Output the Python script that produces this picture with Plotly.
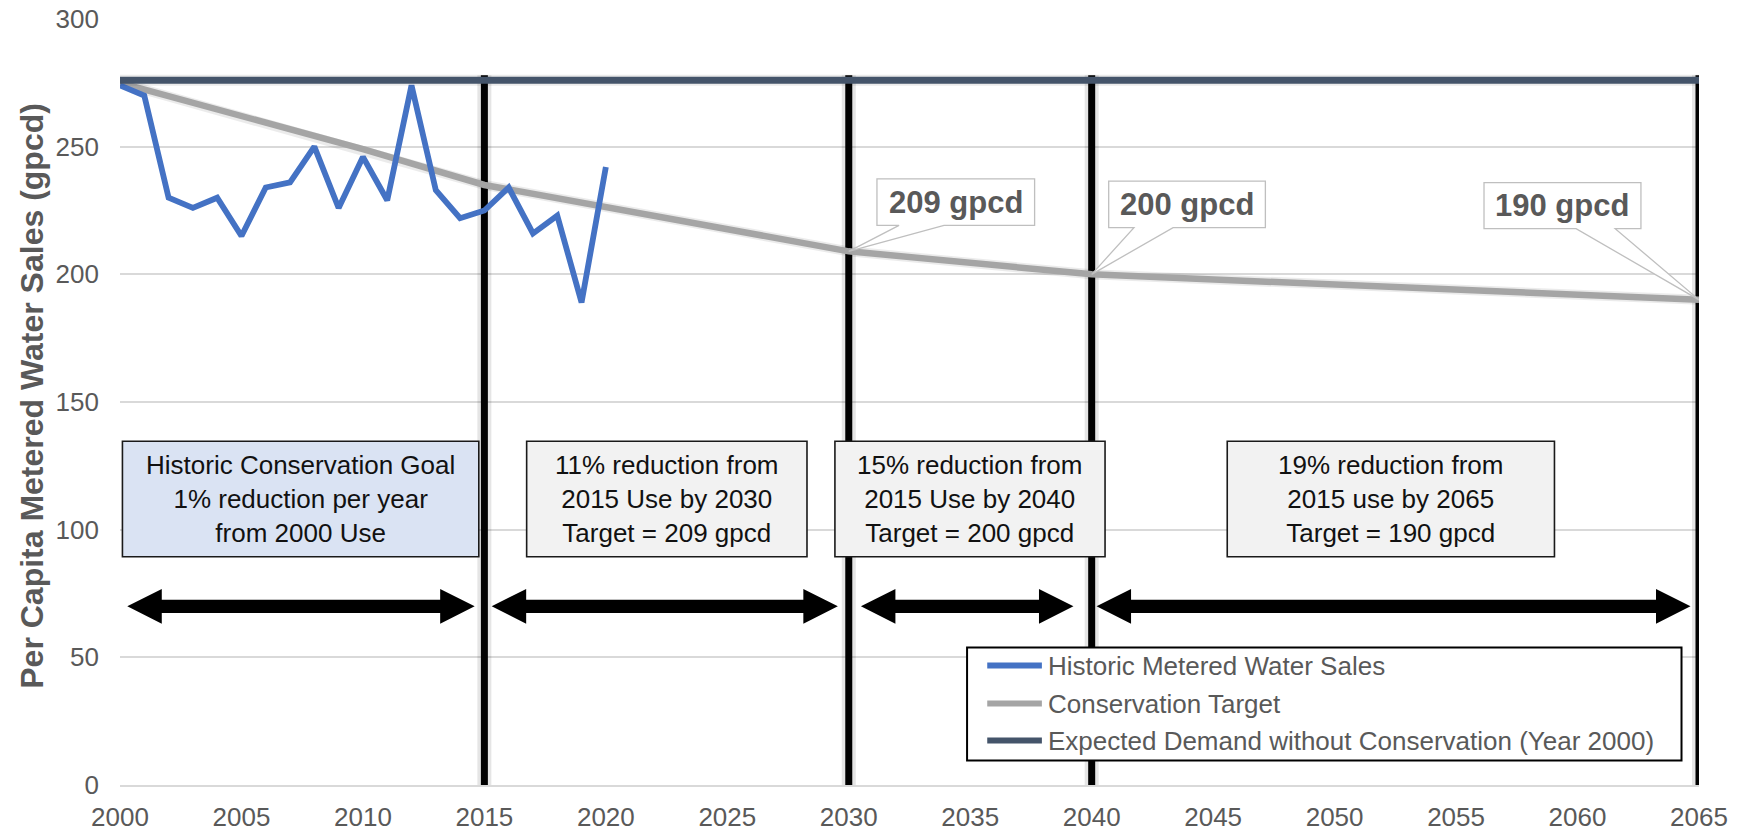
import plotly.graph_objects as go

# ---- data -----------------------------------------------------------------
hist_years = list(range(2000, 2021))
hist_gpcd = [274, 270, 230, 226, 230, 215, 234, 236, 250, 226, 246,
             229, 274, 233, 222, 225, 234, 216, 223, 189, 242]

target_years = [2000, 2005, 2010, 2015, 2030, 2040, 2065]
target_gpcd = [275, 262, 249, 235, 209, 200, 190]

demand_years = [2000, 2065]
demand_gpcd = [276, 276]

milestone_years = [2015, 2030, 2040, 2065]
callout_years = [2030, 2040, 2065]

series_names = [
    "Historic Metered Water Sales",
    "Conservation Target",
    "Expected Demand without Conservation (Year 2000)",
]
series_colors = ["#4472C4", "#A5A5A5", "#44546A"]

period_texts = [
    "Historic Conservation Goal<br>1% reduction per year<br>from 2000 Use",
    "11% reduction from<br>2015 Use by 2030<br>Target = 209 gpcd",
    "15% reduction from<br>2015 Use by 2040<br>Target = 200 gpcd",
    "19% reduction from<br>2015 use by 2065<br>Target = 190 gpcd",
]
period_fills = ["#DAE3F3", "#F2F2F2", "#F2F2F2", "#F2F2F2"]
period_box_x = [(2000.1, 2014.77), (2016.74, 2028.28), (2029.43, 2040.55), (2045.58, 2059.05)]
period_box_y = (89.4, 134.6)

arrow_spans = [(2000.3, 2014.6), (2015.3, 2029.55), (2030.5, 2039.25), (2040.2, 2064.65)]
arrow_y = 70

# callout box geometry: (x0, x1, y0, y1, wedge_left, wedge_right)
callout_boxes = [
    (2031.16, 2037.65, 219.2, 237.4, 2032.07, 2033.92),
    (2040.70, 2047.15, 218.3, 236.5, 2041.74, 2043.35),
    (2056.15, 2062.61, 217.9, 235.9, 2059.94, 2061.55),
]

FONT = "Liberation Sans, Arial, sans-serif"
TEXT_GRAY = "#595959"

fig = go.Figure()

# ---- series (soft halo underneath the thick lines) -------------------------
fig.add_trace(go.Scatter(x=target_years, y=target_gpcd, mode="lines",
                         hoverinfo="skip", showlegend=False,
                         line=dict(color="rgba(0,0,0,0.08)", width=10)))
fig.add_trace(go.Scatter(x=target_years, y=target_gpcd, mode="lines",
                         name=series_names[1],
                         line=dict(color=series_colors[1], width=6.5)))
fig.add_trace(go.Scatter(x=hist_years, y=hist_gpcd, mode="lines",
                         name=series_names[0],
                         line=dict(color=series_colors[0], width=5.8)))
fig.add_trace(go.Scatter(x=demand_years, y=demand_gpcd, mode="lines",
                         hoverinfo="skip", showlegend=False,
                         line=dict(color="rgba(0,0,0,0.08)", width=11)))
fig.add_trace(go.Scatter(x=demand_years, y=demand_gpcd, mode="lines",
                         name=series_names[2],
                         line=dict(color=series_colors[2], width=7)))

shapes = []
annotations = []

# ---- milestone verticals --------------------------------------------------
for yr in milestone_years:
    shapes.append(dict(type="line", xref="x", yref="y", x0=yr, x1=yr, y0=0, y1=278,
                       line=dict(color="rgba(0,0,0,0.10)", width=14), layer="between"))
    shapes.append(dict(type="line", xref="x", yref="y", x0=yr, x1=yr, y0=0, y1=278,
                       line=dict(color="#000000", width=7), layer="between"))

# ---- period text boxes ----------------------------------------------------
for (x0, x1), fill, txt in zip(period_box_x, period_fills, period_texts):
    shapes.append(dict(type="rect", xref="x", yref="y", x0=x0, x1=x1,
                       y0=period_box_y[0], y1=period_box_y[1],
                       fillcolor=fill, line=dict(color="#1a1a1a", width=1.6),
                       layer="above"))
    annotations.append(dict(x=(x0 + x1) / 2, y=sum(period_box_y) / 2, xref="x", yref="y",
                            text=txt, showarrow=False, align="center",
                            font=dict(family=FONT, size=26, color="#111111")))

# ---- double-headed arrows -------------------------------------------------
head_len, head_half, shaft_half = 1.42, 6.8, 2.6
for a, b in arrow_spans:
    y = arrow_y
    path = (f"M {a},{y} L {a+head_len},{y+head_half} L {a+head_len},{y+shaft_half} "
            f"L {b-head_len},{y+shaft_half} L {b-head_len},{y+head_half} L {b},{y} "
            f"L {b-head_len},{y-head_half} L {b-head_len},{y-shaft_half} "
            f"L {a+head_len},{y-shaft_half} L {a+head_len},{y-head_half} Z")
    shapes.append(dict(type="path", xref="x", yref="y", path=path,
                       fillcolor="#000000", line=dict(color="#000000", width=0),
                       layer="above"))

# ---- target callouts ------------------------------------------------------
target_lookup = dict(zip(target_years, target_gpcd))
for yr, (x0, x1, y0, y1, w0, w1) in zip(callout_years, callout_boxes):
    val = target_lookup[yr]
    path = (f"M {x0},{y1} L {x1},{y1} L {x1},{y0} L {w1},{y0} L {yr},{val} "
            f"L {w0},{y0} L {x0},{y0} Z")
    shapes.append(dict(type="path", xref="x", yref="y", path=path,
                       fillcolor="rgba(255,255,255,0.95)",
                       line=dict(color="#BFBFBF", width=1.3), layer="above"))
    annotations.append(dict(x=(x0 + x1) / 2, y=(y0 + y1) / 2, xref="x", yref="y",
                            text=f"<b>{val} gpcd</b>", showarrow=False,
                            font=dict(family=FONT, size=31, color=TEXT_GRAY)))

# ---- legend ---------------------------------------------------------------
shapes.append(dict(type="rect", xref="x", yref="y", x0=2034.87, x1=2064.28, y0=9.6, y1=53.9,
                   fillcolor="#FFFFFF", line=dict(color="#000000", width=2), layer="above"))
legend_rows = [46.8, 31.9, 17.4]
for name, color, ry in zip(series_names, series_colors, legend_rows):
    shapes.append(dict(type="line", xref="x", yref="y", x0=2035.7, x1=2037.95, y0=ry, y1=ry,
                       line=dict(color=color, width=6), layer="above"))
    annotations.append(dict(x=2038.1, y=ry, xref="x", yref="y", text=name,
                            showarrow=False, xanchor="left", yanchor="middle",
                            font=dict(family=FONT, size=26, color=TEXT_GRAY)))

# ---- y-axis title ---------------------------------------------------------
annotations.append(dict(x=-0.0558, y=0.508, xref="paper", yref="paper",
                        text="<b>Per Capita Metered Water Sales (gpcd)</b>",
                        textangle=-90, showarrow=False, xanchor="center", yanchor="middle",
                        font=dict(family=FONT, size=32, color=TEXT_GRAY)))

fig.update_layout(
    width=1743, height=832,
    margin=dict(l=120, r=44, t=19, b=47),
    paper_bgcolor="#FFFFFF", plot_bgcolor="#FFFFFF",
    showlegend=False,
    shapes=shapes, annotations=annotations,
    font=dict(family=FONT, color=TEXT_GRAY),
)
fig.update_xaxes(range=[2000, 2065], tick0=2000, dtick=5, showgrid=False,
                 zeroline=False, showline=True, linecolor="#D9D9D9", linewidth=2,
                 automargin=False,
                 tickfont=dict(family=FONT, size=26, color=TEXT_GRAY),
                 ticklabelstandoff=8)
fig.update_yaxes(range=[0, 300], tick0=0, dtick=50, showgrid=True,
                 gridcolor="#D9D9D9", gridwidth=2, zeroline=False,
                 automargin=False,
                 tickfont=dict(family=FONT, size=26, color=TEXT_GRAY),
                 ticklabelstandoff=20)

fig.write_html("out.html")
